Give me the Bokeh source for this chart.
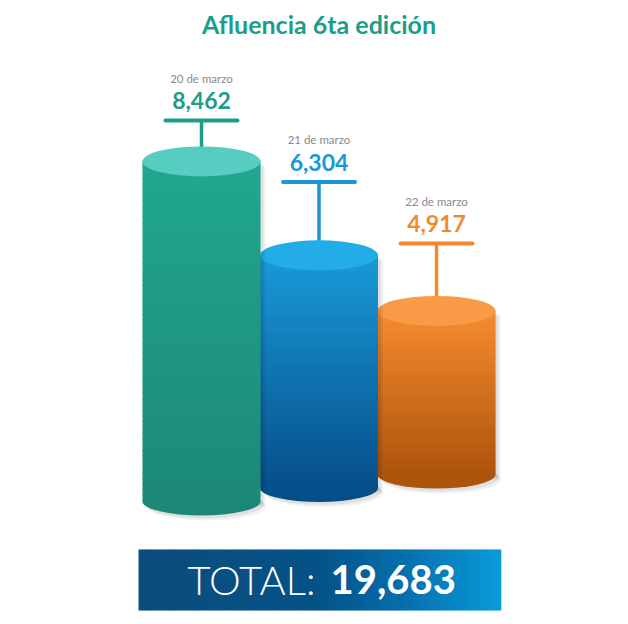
import numpy as np
from bokeh.plotting import figure
from bokeh.models import Range1d
from bokeh.core.properties import value
from bokeh.embed import file_html
from bokeh.resources import INLINE

# ---- data ----
dates = ["20 de marzo", "21 de marzo", "22 de marzo"]
visitors = [8462, 6304, 4917]
title_text = "Afluencia 6ta edición"
total_label = "TOTAL:"

# ---- styles ----
top_colors = ["#56cdc0", "#23ade8", "#f99b46"]
side_top = ["#20a790", "#1a9ad8", "#f68c30"]
side_bot = ["#1d8878", "#054f89", "#ad540c"]
label_colors = ["#1a9e88", "#1a97d5", "#f08a2c"]
banner_stops = [(0.0, "#0c4c7b"), (0.5, "#055287"), (0.75, "#0671b0"), (1.0, "#0a9bd9")]

W, H = 620, 616
Y_TOP, Y_BOT = 11693, -677
PX = (Y_TOP - Y_BOT) / H  # value units per screen pixel


def vy(py):
    return Y_TOP - py * PX


def hex2rgb(h):
    h = h.lstrip("#")
    return np.array([int(h[i:i + 2], 16) for i in (0, 2, 4)], dtype=float)


def mix(c0, c1, t):
    a, b = hex2rgb(c0), hex2rgb(c1)
    c = a + (b - a) * t
    return "#%02x%02x%02x" % tuple(int(round(v)) for v in c)


p = figure(width=W, height=H, x_range=Range1d(0, W), y_range=Range1d(Y_BOT, Y_TOP),
           output_backend="svg", toolbar_location=None, min_border=0,
           x_axis_type=None, y_axis_type=None)
p.grid.visible = False
p.outline_line_color = None
p.background_fill_color = "white"
p.border_fill_color = "white"

X0, DX, CW = 201, 117.5, 118
FLOOR, DEPTH = 1633, 271
TOP_H, BOT_H = 30, 28
BAR0, BAR_STEP = 120, 61.5
N = 60

font = value("Lato")

# stems (behind cylinders)
for i in range(len(visitors)):
    cx = X0 + i * DX
    yc = vy(BAR0 + i * BAR_STEP)
    top = visitors[i] + i * DEPTH
    p.segment(x0=[cx], x1=[cx], y0=[yc], y1=[top], line_color=label_colors[i], line_width=3.5)

# cylinders, back to front
for i in reversed(range(len(visitors))):
    cx = X0 + i * DX
    base = FLOOR + i * DEPTH
    top = visitors[i] + i * DEPTH
    # soft shadow
    for k, a in ((5, 0.05), (3, 0.07)):
        p.quad(left=[cx - CW / 2 + k], right=[cx + CW / 2 + k], bottom=[base - k * PX],
               top=[top - k * PX], fill_color="black", fill_alpha=a, line_color=None)
        p.ellipse(x=[cx + k], y=[base - k * PX], width=CW, height=BOT_H, height_units="screen",
                  fill_color="black", fill_alpha=a, line_color=None)
    # bottom cap
    p.ellipse(x=[cx], y=[base], width=CW, height=BOT_H, height_units="screen",
              fill_color=side_bot[i], line_color=None)
    # side with vertical gradient
    ys = np.linspace(base, top, N + 1)
    cols = [mix(side_bot[i], side_top[i], (j + 0.5) / N) for j in range(N)]
    p.quad(left=[cx - CW / 2] * N, right=[cx + CW / 2] * N, bottom=ys[:-1],
           top=ys[1:] + 1.0 * PX, fill_color=cols, line_color=None)
    # top cap
    p.ellipse(x=[cx], y=[top], width=CW, height=TOP_H, height_units="screen",
              fill_color=top_colors[i], line_color=None)

# T crossbars and texts
for i in range(len(visitors)):
    cx = X0 + i * DX
    pyc = BAR0 + i * BAR_STEP
    p.segment(x0=[cx - 36], x1=[cx + 36], y0=[vy(pyc)], y1=[vy(pyc)],
              line_color=label_colors[i], line_width=4, line_cap="round")
    p.text(x=[cx], y=[vy(pyc - 20)], text=[f"{visitors[i]:,}"], text_align="center",
           text_baseline="alphabetic", text_font=font, text_font_style="bold",
           text_font_size="23px", text_color=label_colors[i])
    p.text(x=[cx], y=[vy(pyc - 42.5)], text=[dates[i]], text_align="center",
           text_baseline="alphabetic", text_font=font, text_font_size="11.5px",
           text_color="#8a8a8a")

# title
p.text(x=[318.5], y=[vy(23)], text=[title_text], text_align="center", text_baseline="alphabetic",
       text_font=font, text_font_style="bold", text_font_size="25px", text_color="#1a9e88")

# total banner
BL, BR, BT, BB = 138, 500, 549, 610
NB = 120
xs = np.linspace(BL, BR, NB + 1)
bcols = []
for j in range(NB):
    t = (j + 0.5) / NB
    for (t0, c0), (t1, c1) in zip(banner_stops[:-1], banner_stops[1:]):
        if t0 <= t <= t1:
            bcols.append(mix(c0, c1, (t - t0) / (t1 - t0)))
            break
p.quad(left=xs[:-1], right=xs[1:] + 0.8, bottom=[vy(BB)] * NB, top=[vy(BT)] * NB,
       fill_color=bcols, line_color=None)
p.text(x=[315], y=[vy(579)], text=[total_label], text_align="right", text_baseline="alphabetic",
       text_font=value("'Lato Light', Lato"), text_font_size="40px", text_color="white")
p.text(x=[330], y=[vy(579)], text=[f"{sum(visitors):,}"], text_align="left",
       text_baseline="alphabetic", text_font=font, text_font_style="bold",
       text_font_size="40px", text_color="white")

open("out.html", "w").write(file_html(p, INLINE))
